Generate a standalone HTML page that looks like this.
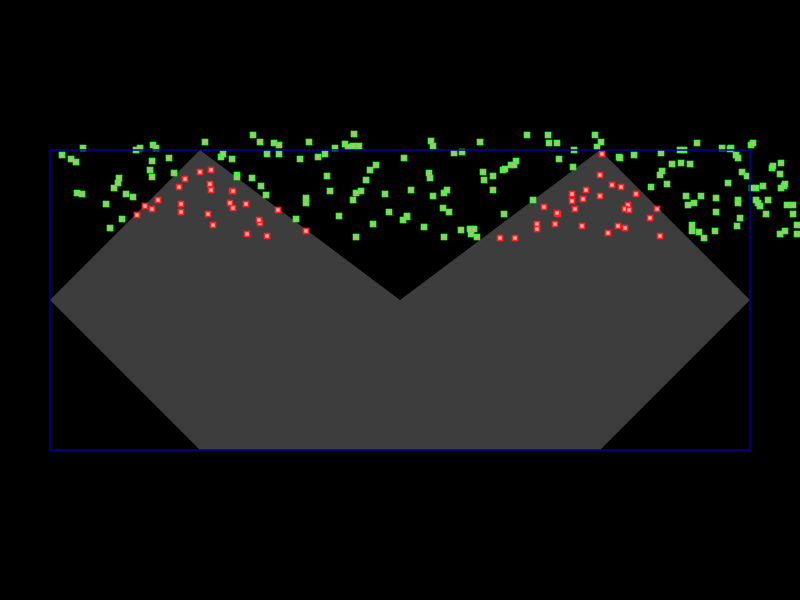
<!DOCTYPE html>
<html><head><meta charset="utf-8"><style>
html,body{margin:0;padding:0;background:#000;}
svg{display:block;}
</style></head><body>
<svg id="chart" width="800" height="600" xmlns="http://www.w3.org/2000/svg">
<rect x="0" y="0" width="800" height="600" fill="#000"/>
<g id="area"></g>
<g id="pts"></g>
<rect x="50" y="150" width="700" height="300" fill="none" stroke="#0000a0" stroke-width="1.5"/>
</svg>
<script>
// data domain: x 0..700, y 0..300 (y up)
const shapeX = [0, 150, 350, 550, 700, 550, 150];
const shapeY = [150, 300, 150, 300, 150, 0, 0];
const ptsX = [12,33,21,26,27,32,56,60,64,69,68,76,72,83,86,90,87,95,100,102,103,106,102,119,124,155,171,173,182,187,203,210,202,211,216,217,224,229,229,228,246,250,256,256,259,256,268,275,285,277,280,289,295,298,303,304,309,306,303,311,316,320,326,323,306,335,339,354,353,357,357,361,374,379,381,383,380,383,394,397,393,399,404,411,412,421,420,424,427,394,430,434,433,443,443,453,455,461,466,464,454,477,483,498,499,507,509,523,524,545,547,551,569,570,584,586,601,612,611,610,617,622,631,630,634,636,640,647,638,644,651,642,642,649,654,666,666,665,672,681,686,688,692,678,688,690,687,688,680,697,701,703,706,702,706,710,708,716,713,718,722,723,731,734,731,730,735,737,743,747,747,743,730,735,
150,161,135,129,160,161,182,187,183,180,196,183,131,108,102,131,158,163,197,210,209,217,
552,550,562,571,536,522,522,533,550,578,575,579,607,600,508,494,507,525,487,487,505,532,568,575,558,610,450,465];
const ptsY = [295,302,291,288,257,256,246,222,262,272,267,256,231,253,300,302,235,244,280,289,305,302,273,292,277,308,293,296,291,275,315,308,272,264,255,296,307,305,296,240,231,291,252,247,308,219,293,296,302,274,259,234,306,303,304,316,304,257,250,259,270,280,285,226,213,256,238,292,230,233,234,260,223,277,309,304,272,254,257,260,242,238,297,220,298,216,221,221,213,213,308,270,278,274,260,280,281,285,289,285,236,315,250,315,307,307,291,283,300,315,303,308,293,292,295,256,263,279,297,275,266,286,287,300,300,254,286,307,245,247,254,225,219,218,212,252,238,219,302,302,295,292,278,267,250,232,224,247,301,274,305,307,262,262,250,244,247,236,264,250,282,284,287,264,262,276,266,245,236,216,225,245,216,219,
278,280,271,263,266,260,259,273,259,247,246,242,246,250,241,238,236,225,216,227,230,214,
296,275,265,263,260,256,249,251,254,245,241,240,241,232,236,243,237,241,226,221,226,224,224,222,217,214,212,212];
const sx = v => 50 + v;
const sy = v => 450 - v;
const area = document.getElementById('area');
const poly = document.createElementNS('http://www.w3.org/2000/svg','polygon');
poly.setAttribute('points', shapeX.map((x,i)=>sx(x)+','+sy(shapeY[i])).join(' '));
poly.setAttribute('fill', '#3d3d3d');


area.appendChild(poly);
function inside(x,y){
  let c=false;
  for(let i=0,j=shapeX.length-1;i<shapeX.length;j=i++){
    const xi=shapeX[i],yi=shapeY[i],xj=shapeX[j],yj=shapeY[j];
    if(((yi>y)!=(yj>y)) && (x < (xj-xi)*(y-yi)/(yj-yi)+xi)) c=!c;
  }
  return c;
}
const g = document.getElementById('pts');
ptsX.forEach((x,i)=>{
  const y = ptsY[i];
  const inn = inside(x,y);
  const r = document.createElementNS('http://www.w3.org/2000/svg','rect');
  r.setAttribute('x', sx(x)-2.5);
  r.setAttribute('y', sy(y)-2.5);
  r.setAttribute('width', 5);
  r.setAttribute('height', 5);
  r.setAttribute('fill', inn ? '#ffb0b0' : '#e0a0a0');
  r.setAttribute('stroke', inn ? '#ff2020' : '#33ff33');
  r.setAttribute('stroke-width', 1.6);
  
  
  g.appendChild(r);
});
</script>
</body></html>
